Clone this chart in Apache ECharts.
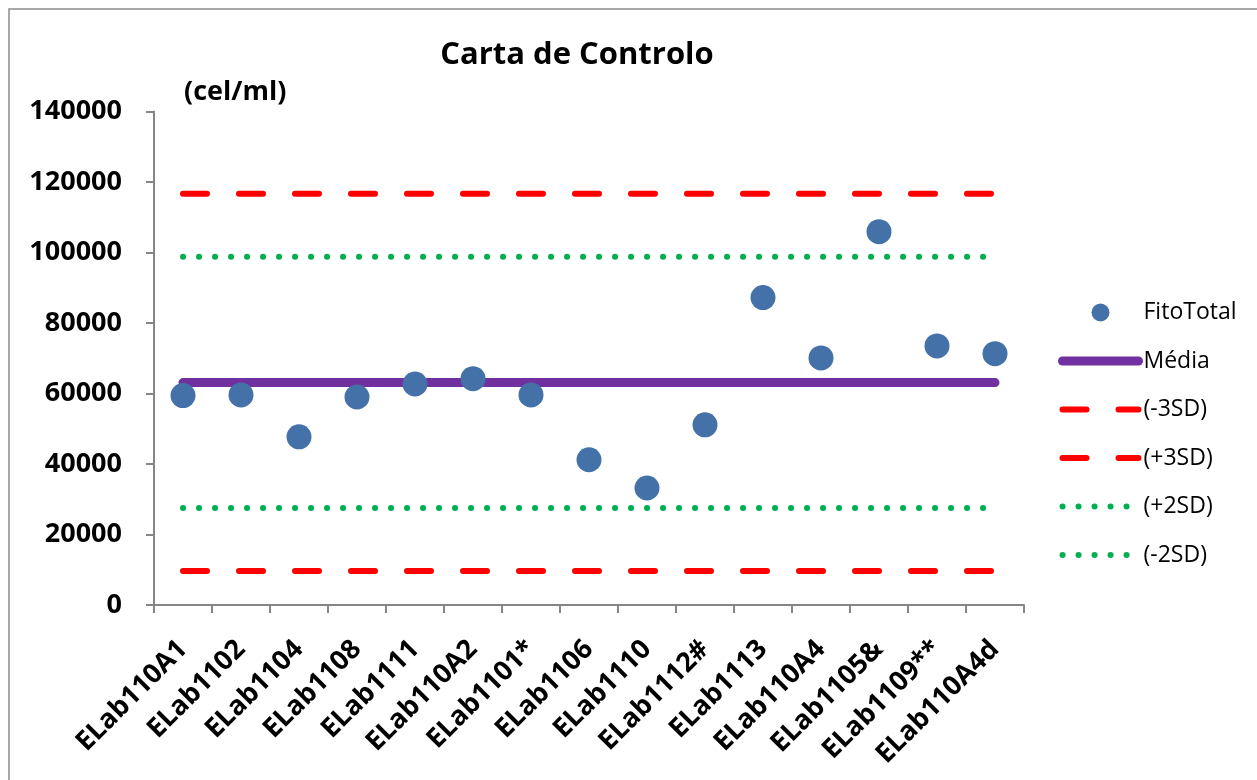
<!DOCTYPE html>
<html><head><meta charset="utf-8">
<script src="https://cdn.jsdelivr.net/npm/echarts@6/dist/echarts.min.js"></script>
<style>html,body{margin:0;padding:0;background:#fff}#c{width:1257px;height:780px}</style>
</head><body><div id="c"></div>
<script>
const categories = ['ELab110A1','ELab1102','ELab1104','ELab1108','ELab1111','ELab110A2','ELab1101*','ELab1106','ELab1110','ELab1112#','ELab1113','ELab110A4','ELab1105&','ELab1109**','ELab110A4d'];
const fitoTotal = [59400, 59600, 47700, 59000, 62700, 64200, 59600, 41200, 33200, 51100, 87200, 70100, 105900, 73500, 71300];
const media = 63100;
const minus3SD = 9650;
const plus3SD = 116700;
const plus2SD = 98800;
const minus2SD = 27500;
const yTicks = [0, 20000, 40000, 60000, 80000, 100000, 120000, 140000];

const fill = v => categories.map(() => v);
const FONT = 'Open Sans';
const chart = echarts.init(document.getElementById('c'), null, {renderer: 'canvas'});
const red = {color: '#FF0000', width: 6, type: [24, 32], cap: 'round'};
const green = {color: '#00B050', width: 6, type: [0.1, 15.9], cap: 'round'};
const purple = {color: '#7030A0', width: 9, cap: 'round'};
const hidden = {opacity: 0};
chart.setOption({
  animation: false,
  backgroundColor: '#fff',
  graphic: [
    {type: 'rect', shape: {x: 9, y: 9, width: 1300, height: 900}, style: {fill: 'none', stroke: '#8c8c8c', lineWidth: 1.5}, silent: true},
    {type: 'text', left: 184, top: 79, style: {text: '(cel/ml)', font: 'bold 27px "' + FONT + '"', fill: '#000'}}
  ],
  title: {
    text: 'Carta de Controlo', left: 572, top: 35, textAlign: 'center',
    textStyle: {fontFamily: FONT, fontWeight: 'bold', fontSize: 31, color: '#000'}
  },
  grid: {left: 154, right: 233, top: 111.5, bottom: 175, containLabel: false},
  legend: {
    orient: 'vertical', left: 1053, top: 296, itemWidth: 76, itemHeight: 18, itemGap: 25.5,
    textStyle: {fontFamily: FONT, fontSize: 23, color: '#000', lineHeight: 18},
    data: [
      {name: 'FitoTotal'},
      {name: 'Média', itemStyle: hidden, lineStyle: purple},
      {name: '(-3SD)', itemStyle: hidden, lineStyle: red},
      {name: '(+3SD)', itemStyle: hidden, lineStyle: red},
      {name: '(+2SD)', itemStyle: hidden, lineStyle: green},
      {name: '(-2SD)', itemStyle: hidden, lineStyle: green}
    ]
  },
  xAxis: {
    type: 'category', data: categories, boundaryGap: true,
    axisLine: {lineStyle: {color: '#868686', width: 2}},
    axisTick: {show: true, length: 8, lineStyle: {color: '#868686', width: 2}},
    axisLabel: {rotate: 45, margin: 40, interval: 0, fontFamily: FONT, fontWeight: 'bold', fontSize: 27, color: '#000'}
  },
  yAxis: {
    type: 'value', min: 0, max: 140000, interval: 20000,
    axisLine: {show: true, lineStyle: {color: '#868686', width: 2}},
    axisTick: {show: true, length: 8, lineStyle: {color: '#868686', width: 2}},
    splitLine: {show: false},
    axisLabel: {margin: 32, fontFamily: FONT, fontWeight: 'bold', fontSize: 27, color: '#000',
      formatter: v => yTicks.includes(v) ? String(v) : ''}
  },
  series: [
    {name: 'Média', type: 'line', data: fill(media), symbol: 'none', lineStyle: purple, itemStyle: {color: '#7030A0'}, z: 2},
    {name: '(-3SD)', type: 'line', data: fill(minus3SD), symbol: 'none', lineStyle: red, itemStyle: {color: '#FF0000'}, z: 2},
    {name: '(+3SD)', type: 'line', data: fill(plus3SD), symbol: 'none', lineStyle: red, itemStyle: {color: '#FF0000'}, z: 2},
    {name: '(+2SD)', type: 'line', data: fill(plus2SD), symbol: 'none', lineStyle: green, itemStyle: {color: '#00B050'}, z: 2},
    {name: '(-2SD)', type: 'line', data: fill(minus2SD), symbol: 'none', lineStyle: green, itemStyle: {color: '#00B050'}, z: 2},
    {name: 'FitoTotal', type: 'scatter', data: fitoTotal, symbol: 'circle', symbolSize: 25, itemStyle: {color: '#4472A8', opacity: 1}, z: 5}
  ]
});
</script></body></html>
